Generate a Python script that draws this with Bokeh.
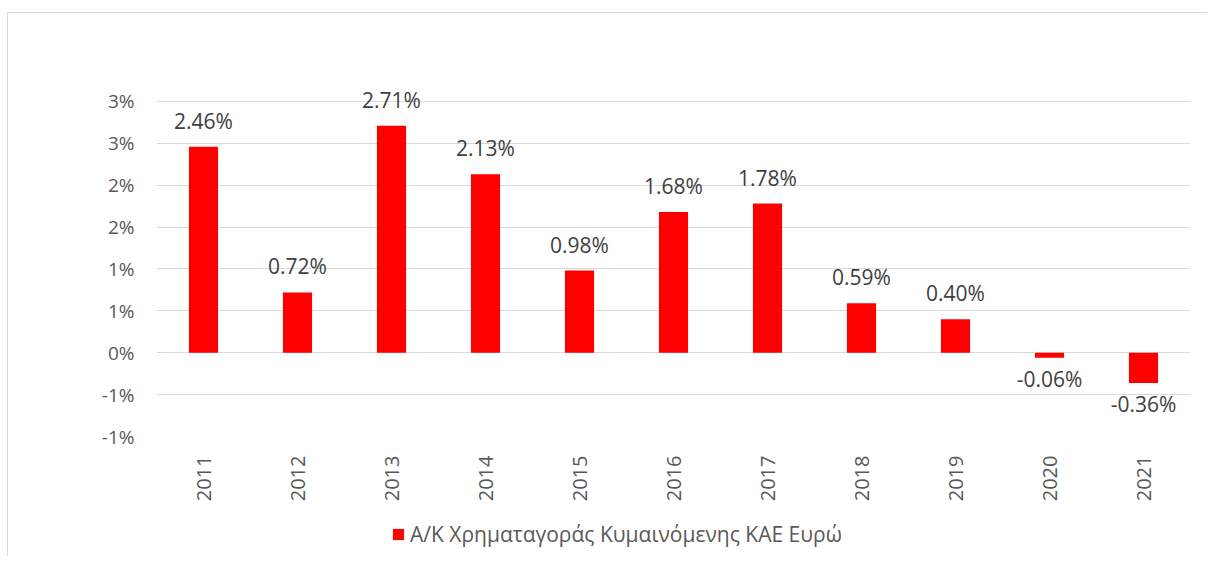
from bokeh.plotting import figure
from bokeh.layouts import column
from bokeh.models import (FactorRange, Range1d, FixedTicker, ColumnDataSource,
                          Legend, LegendItem)
from bokeh.core.properties import value
from bokeh.embed import file_html
from bokeh.resources import INLINE
import math

# ---- data ----
years = ["2011", "2012", "2013", "2014", "2015", "2016", "2017", "2018", "2019", "2020", "2021"]
rates = [2.46, 0.72, 2.71, 2.13, 0.98, 1.68, 1.78, 0.59, 0.40, -0.06, -0.36]
y_ticks = [-1.0, -0.5, 0.0, 0.5, 1.0, 1.5, 2.0, 2.5, 3.0]
y_tick_labels = ["-1%", "-1%", "0%", "1%", "1%", "2%", "2%", "3%", "3%"]
series_name = "Α/Κ Χρηματαγοράς Κυμαινόμενης ΚΑΕ Ευρώ"

FONT = "Open Sans"
TXT = "#595959"
LBL = "#404040"
GRID = "#D9D9D9"
RED = "#FF0000"

p = figure(
    x_range=FactorRange(*years),
    y_range=Range1d(-1.0, 3.5),
    width=1199, height=503,
    output_backend="svg", toolbar_location=None,
    min_border_left=148, min_border_right=17,
    min_border_top=46, min_border_bottom=80,
)
p.outline_line_color = None
p.background_fill_color = "white"
p.border_fill_color = "white"

src = ColumnDataSource(dict(x=years, top=rates))
bars = p.vbar(x="x", top="top", bottom=0, width=0.31, source=src,
              fill_color=RED, line_color=None)

pos = [(y, r) for y, r in zip(years, rates) if r >= 0]
neg = [(y, r) for y, r in zip(years, rates) if r < 0]
pos_src = ColumnDataSource(dict(x=[a for a, _ in pos], y=[b for _, b in pos],
                                t=[f"{b:.2f}%" for _, b in pos]))
neg_src = ColumnDataSource(dict(x=[a for a, _ in neg], y=[b for _, b in neg],
                                t=[f"{b:.2f}%" for _, b in neg]))
for s, off in ((pos_src, -26), (neg_src, 21)):
    p.text(x="x", y="y", text="t", source=s, text_align="center",
           text_baseline="alphabetic", y_offset=off,
           text_font=value(FONT), text_font_size="21px", text_color=LBL)

# axes
p.yaxis.ticker = FixedTicker(ticks=y_ticks)
p.yaxis.major_label_overrides = {t: l for t, l in zip(y_ticks, y_tick_labels)}
p.yaxis.axis_line_color = None
p.yaxis.major_tick_line_color = None
p.yaxis.minor_tick_line_color = None
p.yaxis.major_tick_out = 0
p.yaxis.major_label_standoff = 22
p.yaxis.major_label_text_font = FONT
p.yaxis.major_label_text_font_size = "19px"
p.yaxis.major_label_text_color = TXT

p.xaxis.axis_line_color = None
p.xaxis.major_tick_line_color = None
p.xaxis.major_tick_out = 0
p.xaxis.major_label_orientation = math.pi / 2
p.xaxis.major_label_standoff = 19
p.xaxis.major_label_text_font = FONT
p.xaxis.major_label_text_font_size = "20px"
p.xaxis.major_label_text_color = TXT

p.xgrid.grid_line_color = None
p.ygrid.grid_line_color = GRID
p.ygrid.grid_line_width = 1

# legend strip below the chart
lg = figure(
    x_range=FactorRange(*years), y_range=Range1d(100, 101),
    width=1199, height=40, output_backend="svg", toolbar_location=None,
    x_axis_location=None, y_axis_location=None,
    min_border=0,
)
lg.outline_line_color = None
lg.xgrid.grid_line_color = None
lg.ygrid.grid_line_color = None
lg_bars = lg.vbar(x="x", top="top", bottom=0, width=0.31, source=src,
                  fill_color=RED, line_color=None)
legend = Legend(items=[LegendItem(label=series_name, renderers=[lg_bars])],
                location=(235, 8), orientation="horizontal",
                glyph_width=14, glyph_height=14, label_standoff=5,
                padding=0, margin=0, border_line_color=None,
                background_fill_alpha=0,
                label_text_font=FONT, label_text_font_size="21px",
                label_text_color=TXT)
lg.add_layout(legend, "center")

layout = column(p, lg, spacing=0,
                styles={"border-left": f"1px solid {GRID}",
                        "border-top": f"1px solid {GRID}"},
                margin=(12, 0, 0, 7))

open("out.html", "w").write(file_html(layout, INLINE))
